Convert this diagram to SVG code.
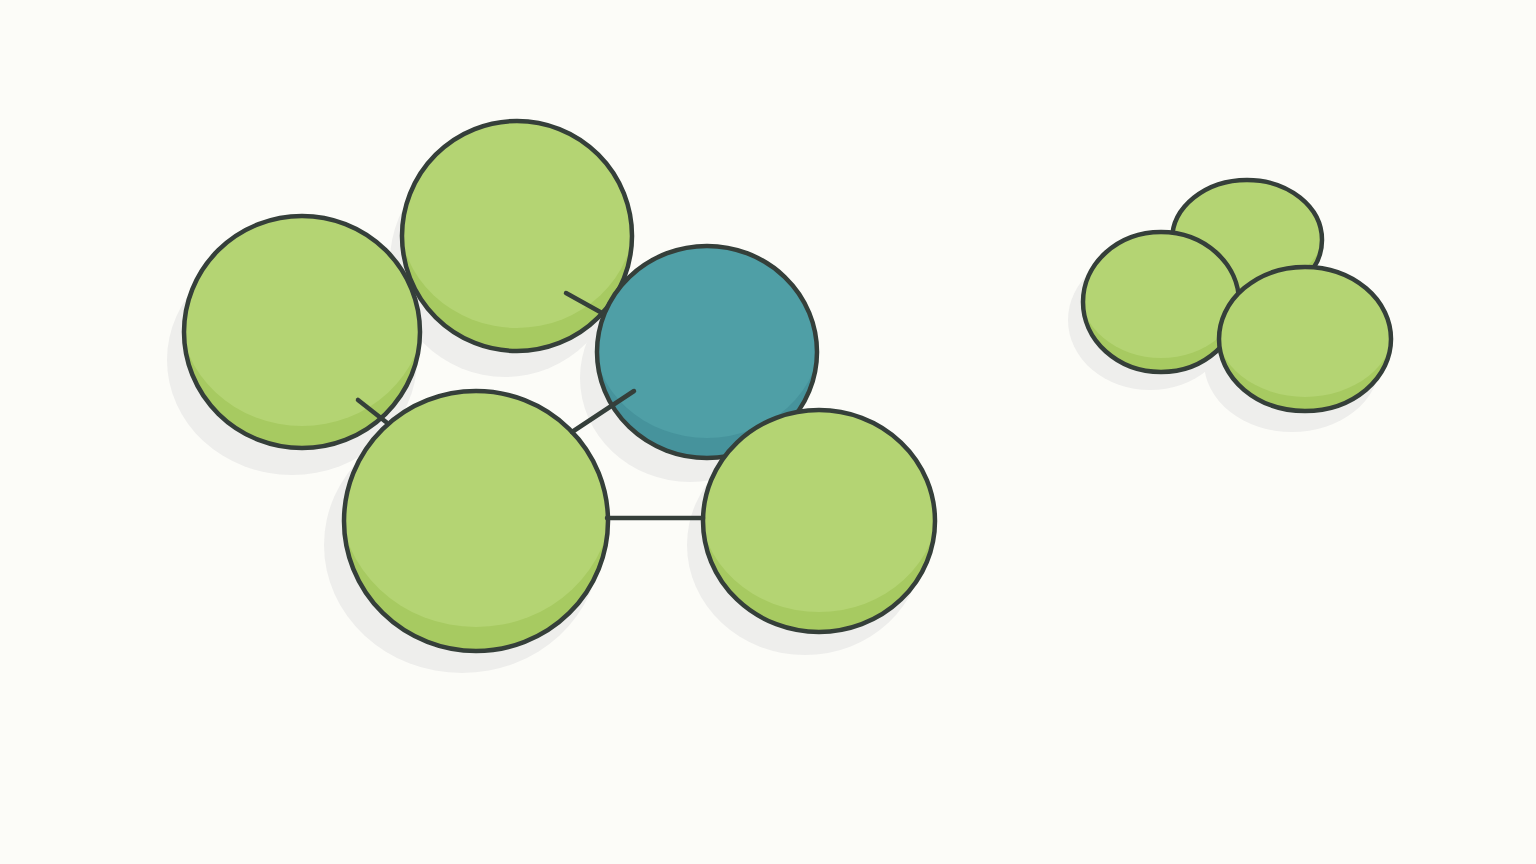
<svg xmlns="http://www.w3.org/2000/svg" width="1536" height="864" viewBox="0 0 1536 864">
<style>
.bg{fill:#fcfcf8}
.sh{fill:#eeeeec}
.gd{fill:#a7ca61}
.gl{fill:#b4d473}
.td{fill:#46939c}
.tl{fill:#4f9fa6}
.ol{fill:none;stroke:#353f3a;stroke-width:4.5}
.cn{stroke:#353f3a;stroke-width:4.5;stroke-linecap:round;fill:none}
</style>
<defs>
<clipPath id="cA"><ellipse cx="302" cy="332" rx="118" ry="116"/></clipPath>
<clipPath id="cB"><ellipse cx="517" cy="236" rx="115" ry="115"/></clipPath>
<clipPath id="cC"><ellipse cx="707" cy="352" rx="110" ry="106"/></clipPath>
<clipPath id="cD"><ellipse cx="476" cy="521" rx="132" ry="130"/></clipPath>
<clipPath id="cE"><ellipse cx="819" cy="521" rx="116" ry="111"/></clipPath>
<clipPath id="cF"><ellipse cx="1247" cy="240" rx="75" ry="60"/></clipPath>
<clipPath id="cG"><ellipse cx="1161" cy="302" rx="78" ry="70"/></clipPath>
<clipPath id="cH"><ellipse cx="1305" cy="339" rx="86" ry="72"/></clipPath>
</defs>
<rect class="bg" width="1536" height="864"/>
<g id="shadows">
<ellipse class="sh" cx="292" cy="360" rx="125" ry="115"/>
<ellipse class="sh" cx="505" cy="262" rx="115" ry="115"/>
<ellipse class="sh" cx="690" cy="378" rx="110" ry="104"/>
<ellipse class="sh" cx="462" cy="545" rx="138" ry="128"/>
<ellipse class="sh" cx="805" cy="545" rx="118" ry="110"/>
<ellipse class="sh" cx="1150" cy="320" rx="82" ry="70"/>
<ellipse class="sh" cx="1292" cy="362" rx="88" ry="70"/>
</g>
<g id="nodeB">
<g clip-path="url(#cB)"><rect class="gd" x="400" y="118" width="235" height="236"/><ellipse class="gl" cx="517" cy="216" rx="118" ry="112"/></g>
<ellipse class="ol" cx="517" cy="236" rx="115" ry="115"/>
</g>
<g id="nodeA">
<g clip-path="url(#cA)"><rect class="gd" x="182" y="214" width="240" height="236"/><ellipse class="gl" cx="302" cy="312" rx="122" ry="114"/></g>
<ellipse class="ol" cx="302" cy="332" rx="118" ry="116"/>
</g>
<g id="nodeC">
<g clip-path="url(#cC)"><rect class="td" x="595" y="244" width="224" height="216"/><ellipse class="tl" cx="707" cy="334" rx="114" ry="104"/></g>
<ellipse class="ol" cx="707" cy="352" rx="110" ry="106"/>
</g>
<g id="nodeE">
<g clip-path="url(#cE)"><rect class="gd" x="701" y="408" width="236" height="226"/><ellipse class="gl" cx="819" cy="502" rx="120" ry="110"/></g>
<ellipse class="ol" cx="819" cy="521" rx="116" ry="111"/>
</g>
<g id="nodeD">
<g clip-path="url(#cD)"><rect class="gd" x="342" y="389" width="268" height="264"/><ellipse class="gl" cx="476" cy="499" rx="136" ry="128"/></g>
<ellipse class="ol" cx="476" cy="521" rx="132" ry="130"/>
</g>
<g id="connectors">
<line class="cn" x1="566" y1="293" x2="602" y2="313"/>
<line class="cn" x1="358" y1="400" x2="386" y2="422"/>
<line class="cn" x1="572" y1="432" x2="634" y2="391"/>
<line class="cn" x1="607" y1="518" x2="703" y2="518"/>
</g>
<g id="nodeF">
<g clip-path="url(#cF)"><rect class="gd" x="1170" y="178" width="154" height="124"/><ellipse class="gl" cx="1247" cy="228" rx="78" ry="60"/></g>
<ellipse class="ol" cx="1247" cy="240" rx="75" ry="60"/>
</g>
<g id="nodeG">
<g clip-path="url(#cG)"><rect class="gd" x="1081" y="230" width="160" height="144"/><ellipse class="gl" cx="1161" cy="288" rx="82" ry="70"/></g>
<ellipse class="ol" cx="1161" cy="302" rx="78" ry="70"/>
</g>
<g id="nodeH">
<g clip-path="url(#cH)"><rect class="gd" x="1217" y="265" width="176" height="148"/><ellipse class="gl" cx="1305" cy="325" rx="90" ry="72"/></g>
<ellipse class="ol" cx="1305" cy="339" rx="86" ry="72"/>
</g>
</svg>
